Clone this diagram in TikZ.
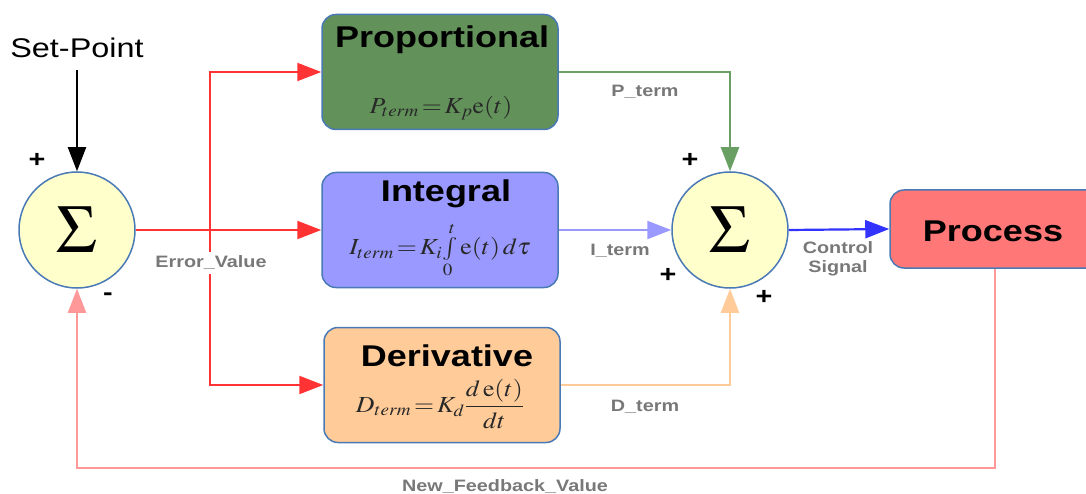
\documentclass[tikz,border=0pt]{standalone}
\usepackage{mathptmx}
\usepackage[no-math]{fontspec}
\setmainfont[FakeStretch=1.2]{Liberation Sans}
\usepackage{graphicx}
\usetikzlibrary{arrows.meta}
\definecolor{bord}{RGB}{74,122,181}
\definecolor{pfill}{RGB}{98,145,90}
\definecolor{pline}{RGB}{106,159,99}
\definecolor{ifill}{RGB}{153,153,255}
\definecolor{dfill}{RGB}{255,204,153}
\definecolor{prfill}{RGB}{255,119,119}
\definecolor{sumfill}{RGB}{255,255,204}
\definecolor{redl}{RGB}{255,51,51}
\definecolor{bluel}{RGB}{51,51,255}
\definecolor{fbl}{RGB}{255,153,153}
\definecolor{lblgray}{RGB}{120,120,120}
\definecolor{formc}{RGB}{40,40,40}
\tikzset{
  blk/.style={draw=bord, line width=1.5pt, rounded corners=14pt, minimum width=236pt, minimum height=115pt},
  sumnode/.style={circle, draw=bord, line width=1.5pt, fill=sumfill, minimum size=116pt, inner sep=0pt},
  ttl/.style={font=\fontsize{30}{34}\selectfont\bfseries, inner sep=0pt},
  form/.style={text=formc, inner sep=0pt},
  lbl/.style={font=\fontsize{16.5}{19}\selectfont\bfseries, text=lblgray, inner sep=1pt, align=center},
  sgn/.style={font=\fontsize{24}{24}\selectfont\bfseries, inner sep=0pt},
  conn/.style={line width=2.2pt, -{Triangle[length=24pt,width=18pt]}},
}
\begin{document}
\begin{tikzpicture}[x=1pt,y=-1pt]
\useasboundingbox (0,0) rectangle (1086,494);
% nodes
\node[font=\fontsize{27}{30}\selectfont, inner sep=0pt] (sp) at (77,48) {Set-Point};
\node[sumnode] (sumL) at (77,230) {\fontsize{68}{68}\selectfont$\Sigma$};
\node[sumnode] (sumR) at (730,230) {\fontsize{68}{68}\selectfont$\Sigma$};
\node[blk, fill=pfill] (prop) at (440,72) {};
\node[blk, fill=ifill] (integ) at (440,230) {};
\node[blk, fill=dfill] (deriv) at (442,385) {};
\node[draw=bord, line width=1.5pt, rounded corners=14pt, fill=prfill, minimum width=210pt, minimum height=78pt] (proc) at (995,229) {};
\node[ttl] (procT) at (993,231) {Process};
\node[ttl] (propT) at (442,40) {Proportional};
\node[ttl] (integT) at (446,194) {Integral};
\node[ttl] (derivT) at (447,356) {Derivative};
\node[form] (propF) at (441,108) {\scalebox{1.12}[1]{\fontsize{23}{25}\selectfont$P_{term}\!=\!K_p\mathrm{e}(t)$}};
\node[form] (integF) at (440,250) {\scalebox{1.12}[1]{\fontsize{23}{25}\selectfont$I_{term}\!=\!K_i\!\int\limits_0^t\mathrm{e}(t)\,d\tau$}};
\node[form] (derivF) at (440,404) {\scalebox{1.12}[1]{\fontsize{23}{25}\selectfont$\displaystyle D_{term}\!=\!K_d\frac{d\,\mathrm{e}(t)}{dt}$}};
% signs
\node[sgn] (s1) at (37,160) {+};
\node[sgn] (s2) at (108,297) {-};
\node[sgn] (s3) at (690,160) {+};
\node[sgn] (s4) at (668,275) {+};
\node[sgn] (s5) at (764,297) {+};
% coordinates
\coordinate (split) at (210,230);
\coordinate (fb) at (500,468);
% connectors
\draw[conn, black, line width=2pt, shorten <=12pt] (sp.south) -- (sumL.north);
\draw[conn, redl] (sumL.east) -- (integ.west);
\draw[conn, redl] (split) |- (prop.west);
\draw[conn, redl] (split) |- (deriv.west);
\node[lbl, fill=white, inner sep=4pt] (ev) at (211,263) {Error\_Value};
\draw[conn, pline] (prop.east) -| (sumR.north);
\draw[conn, ifill] (integ.east) -- (sumR.west);
\draw[conn, dfill] (deriv.east) -| (sumR.south);
\draw[conn, bluel] (sumR.east) -- (proc.west);
\draw[conn, fbl] (proc.south) |- (fb) -| (sumL.south);
% labels
\node[lbl] (pt) at (645,92) {P\_term};
\node[lbl] (it) at (620,251) {I\_term};
\node[lbl] (dt) at (645,407) {D\_term};
\node[lbl] (cs) at (838,259) {Control\\Signal};
\node[lbl] (nf) at (505,487) {New\_Feedback\_Value};
\end{tikzpicture}
\end{document}
